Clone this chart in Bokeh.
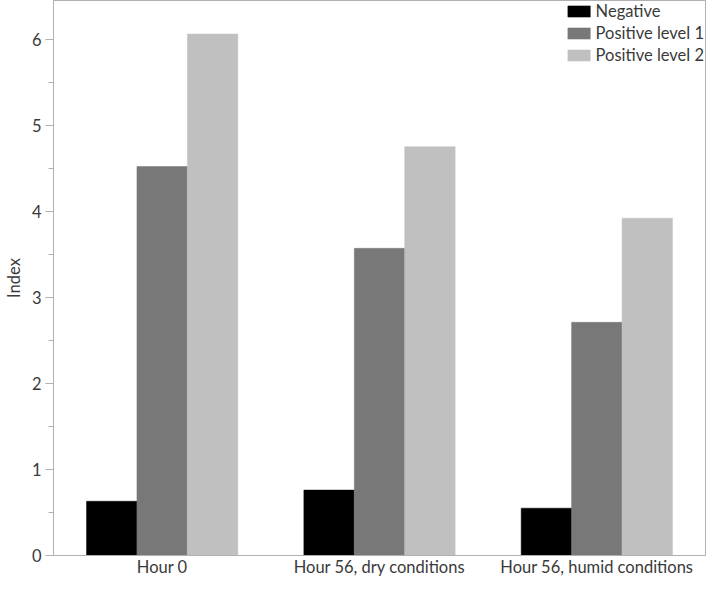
from bokeh.plotting import figure
from bokeh.models import ColumnDataSource, FactorRange, Range1d, SingleIntervalTicker, Legend, LegendItem
from bokeh.transform import dodge
from bokeh.embed import file_html
from bokeh.resources import INLINE

groups = ["Hour 0", "Hour 56, dry conditions", "Hour 56, humid conditions"]
series = ["Negative", "Positive level 1", "Positive level 2"]
negative = [0.63, 0.76, 0.55]
positive1 = [4.52, 3.57, 2.71]
positive2 = [6.06, 4.75, 3.92]
colors = ["#000000", "#787878", "#c0c0c0"]

src = ColumnDataSource(dict(group=groups, neg=negative, p1=positive1, p2=positive2))

FONT = "Lato"
FS = "16.5px"
TXT = "#3a3a3a"
p = figure(width=706, height=579, x_range=FactorRange(*groups), y_range=Range1d(0, 6.45),
           output_backend="svg", toolbar_location=None,
           min_border_left=47, min_border_right=1, min_border_top=0, min_border_bottom=0)

bw = 0.232
renderers = []
for col, off, c in zip(["neg", "p1", "p2"], [-bw, 0, bw], colors):
    r = p.vbar(x=dodge("group", off, range=p.x_range), top=col, width=bw, source=src,
               fill_color=c, line_color=c, line_width=0.5)
    renderers.append(r)

legend = Legend(items=[LegendItem(label=s, renderers=[r]) for s, r in zip(series, renderers)],
                location="top_right", border_line_color=None, background_fill_alpha=0,
                label_text_font=FONT, label_text_font_size=FS, label_text_color=TXT,
                glyph_width=28, glyph_height=14, label_height=19, spacing=2,
                padding=3, margin=1, label_standoff=3)
p.add_layout(legend)

p.grid.visible = False
p.outline_line_color = "#b0b0b0"
p.outline_line_width = 1
p.background_fill_color = "white"

p.yaxis.ticker = SingleIntervalTicker(interval=1, num_minor_ticks=2)
p.yaxis.axis_label = "Index"
p.yaxis.axis_label_text_font = FONT
p.yaxis.axis_label_text_font_size = FS
p.yaxis.axis_label_text_font_style = "normal"
p.yaxis.axis_label_text_color = TXT
p.yaxis.axis_label_standoff = 5
p.yaxis.major_tick_out = 8
p.yaxis.major_tick_in = 0
p.yaxis.minor_tick_out = 5
p.yaxis.minor_tick_in = 0
p.yaxis.major_label_standoff = 4

for ax in [p.xaxis[0], p.yaxis[0]]:
    ax.axis_line_color = "#b0b0b0"
    ax.major_tick_line_color = "#b0b0b0"
    ax.minor_tick_line_color = "#b0b0b0"
    ax.major_label_text_font = FONT
    ax.major_label_text_font_size = FS
    ax.major_label_text_color = TXT

p.xaxis.major_tick_line_color = None
p.xaxis.major_tick_out = 0
p.xaxis.major_tick_in = 0
p.xaxis.minor_tick_out = 0
p.xaxis.major_label_standoff = 1

open("out.html", "w").write(file_html(p, INLINE))
